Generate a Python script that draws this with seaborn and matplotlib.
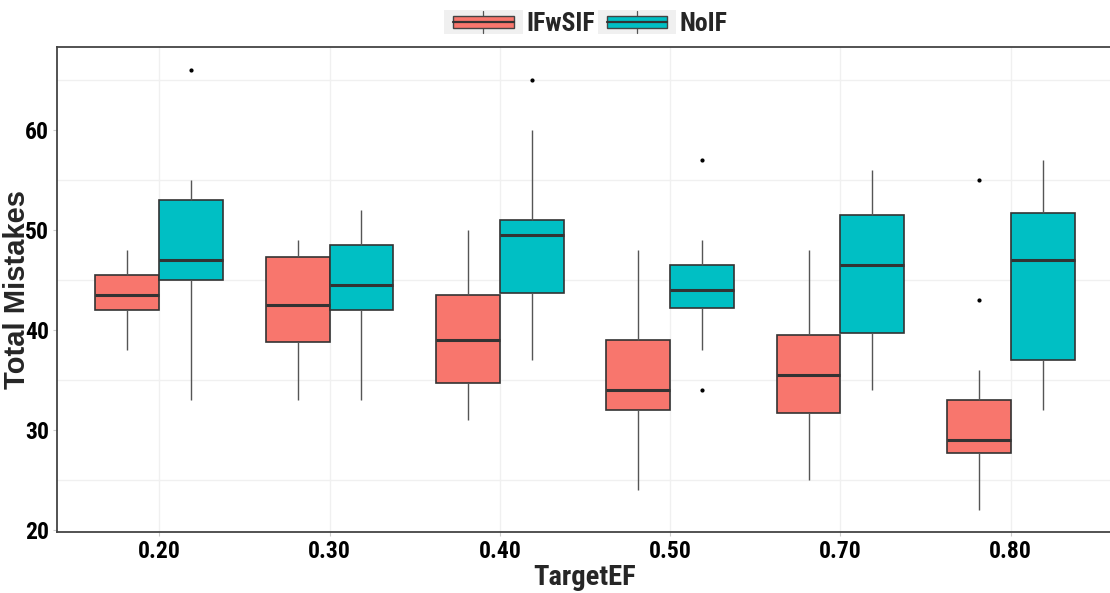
import numpy as np
import pandas as pd
import matplotlib
matplotlib.use("Agg")
import matplotlib.pyplot as plt
from matplotlib import font_manager as fm
from matplotlib.font_manager import FontProperties
from matplotlib.legend_handler import HandlerBase
from matplotlib.patches import Rectangle, Patch
from matplotlib.lines import Line2D
import seaborn as sns

# ---- data: box summaries per TargetEF level ----
target_ef = ["0.20", "0.30", "0.40", "0.50", "0.70", "0.80"]
groups = ["IFwSIF", "NoIF"]

ifwsif_low = [38, 33, 31, 24, 25, 22]
ifwsif_q1 = [42, 38.8, 34.75, 32, 31.75, 27.75]
ifwsif_med = [43.5, 42.5, 39, 34, 35.5, 29]
ifwsif_q3 = [45.5, 47.3, 43.5, 39, 39.5, 33]
ifwsif_high = [48, 49, 50, 48, 48, 36]
ifwsif_out = [[], [], [], [], [], [55, 43]]

noif_low = [33, 33, 37, 38, 34, 32]
noif_q1 = [45, 42, 43.75, 42.25, 39.75, 37]
noif_med = [47, 44.5, 49.5, 44, 46.5, 47]
noif_q3 = [53, 48.5, 51, 46.5, 51.5, 51.75]
noif_high = [55, 52, 60, 49, 56, 57]
noif_out = [[66], [], [65], [57, 34], [], []]

colors = {"IFwSIF": "#F8766D", "NoIF": "#00BFC4"}


def observations(low, q1, med, q3, high, out):
    """13 observations whose quartiles and whisker ends equal the summary."""
    lo_out = sorted(v for v in out if v < q1)
    hi_out = sorted(v for v in out if v > q3)
    below = (lo_out + [low] * 3)[:3]
    above = ([high] + hi_out + [high] * 3)[:3]
    return below + [q1, q1, med, med, med, q3, q3] + above


rows = []
summaries = {
    "IFwSIF": (ifwsif_low, ifwsif_q1, ifwsif_med, ifwsif_q3, ifwsif_high, ifwsif_out),
    "NoIF": (noif_low, noif_q1, noif_med, noif_q3, noif_high, noif_out),
}
for g, (lo, a, m, b, hi, out) in summaries.items():
    for i, lvl in enumerate(target_ef):
        for v in observations(lo[i], a[i], m[i], b[i], hi[i], out[i]):
            rows.append({"TargetEF": lvl, "Total Mistakes": v, "Group": g})
df = pd.DataFrame(rows)

# ---- fonts: a condensed bold face for ticks, legend and x title ----
sns.set_theme(style="white")
installed = {f.name for f in fm.fontManager.ttflist}
condensed_faces = [f.name for f in fm.fontManager.ttflist
                   if "Condensed" in f.name or "Narrow" in f.name]
candidates = ["Liberation Sans Narrow", "Roboto Condensed", "Noto Sans Condensed",
              "Open Sans Condensed", "Noto Sans Display Condensed"]
narrow = next((c for c in candidates if c in installed), None)
if narrow is None and condensed_faces:
    narrow = condensed_faces[0]
if narrow is None:
    narrow = "Liberation Sans"
plt.rcParams["font.family"] = [narrow, "DejaVu Sans"]
plt.rcParams["font.stretch"] = "condensed"

fig = plt.figure(figsize=(11.1, 5.93), dpi=100)
ax = fig.add_axes([57 / 1110, 1 - 532 / 593, 1056 / 1110, 485 / 593])

sns.boxplot(
    data=df, x="TargetEF", y="Total Mistakes", hue="Group",
    order=target_ef, hue_order=groups, palette=colors, saturation=1,
    width=0.75, gap=0, linecolor="#333333", linewidth=1.2,
    showcaps=False, fliersize=2.0,
    flierprops=dict(marker="o", markerfacecolor="black", markeredgecolor="black"),
    medianprops=dict(color="#333333", linewidth=2.2),
    whiskerprops=dict(color="#555555", linewidth=1.0),
    ax=ax, legend=False, zorder=3,
)

ax.set_xlim(-0.6, len(target_ef) - 0.4)
ax.set_ylim(19.8, 68.3)
ax.set_yticks([20, 30, 40, 50, 60])

# light grid: half-decade horizontal lines and category verticals
for yv in [25, 35, 45, 55, 65]:
    ax.axhline(yv, color="#F0F0F0", lw=1.0, zorder=0)
for xv in range(len(target_ef)):
    ax.axvline(xv, color="#F0F0F0", lw=1.0, zorder=0)

for side in ["left", "bottom", "top"]:
    ax.spines[side].set_visible(True)
    ax.spines[side].set_color("#444444")
    ax.spines[side].set_linewidth(1.3)
ax.spines["right"].set_visible(False)

ax.tick_params(axis="both", which="major", length=3, width=0.8, color="#CCCCCC",
               labelsize=17, labelcolor="black", pad=2.5, left=True, bottom=True)
for lab in ax.get_xticklabels() + ax.get_yticklabels():
    lab.set_fontweight("bold")

ax.set_xlabel("TargetEF", fontsize=20.5, fontweight="bold", labelpad=1)
ylab_font = FontProperties(family="Liberation Sans", weight="bold",
                           stretch="normal", size=21)
ax.set_ylabel("Total Mistakes", fontproperties=ylab_font)
ax.yaxis.set_label_coords(-26 / 1056, 0.5)


class BoxKey(HandlerBase):
    def create_artists(self, legend, orig_handle, xdescent, ydescent,
                       width, height, fontsize, trans):
        bg = Rectangle((-xdescent, -ydescent - 0.3 * height), width, height * 1.6,
                       facecolor="#F0F0F0", edgecolor="none", transform=trans)
        pad = width * 0.115
        box = Rectangle((-xdescent + pad, -ydescent + 0.1 * height), width - 2 * pad,
                        height * 0.8, facecolor=orig_handle.get_facecolor(),
                        edgecolor="#444444", lw=1.0, transform=trans)
        cx = -xdescent + width / 2
        whisk = Line2D([cx, cx], [-ydescent - 0.2 * height, -ydescent + 1.2 * height],
                       color="#555555", lw=0.9, transform=trans)
        med = Line2D([-xdescent + pad, -xdescent + width - pad],
                     [-ydescent + 0.5 * height] * 2, color="#333333", lw=1.6,
                     transform=trans)
        return [bg, whisk, box, med]


handles = [Patch(facecolor=colors[g]) for g in groups]
leg = fig.legend(handles, groups, loc="center", bbox_to_anchor=(586 / 1110, 1 - 24 / 593),
                 ncol=2, frameon=False, handler_map={Patch: BoxKey()},
                 prop=dict(family=[narrow, "DejaVu Sans"], weight="bold", size=18.5,
                           stretch="condensed"),
                 handlelength=3.05, handleheight=0.55, handletextpad=0.15,
                 columnspacing=0.1, borderpad=0, borderaxespad=0)

fig.savefig("out.png", dpi=100)
